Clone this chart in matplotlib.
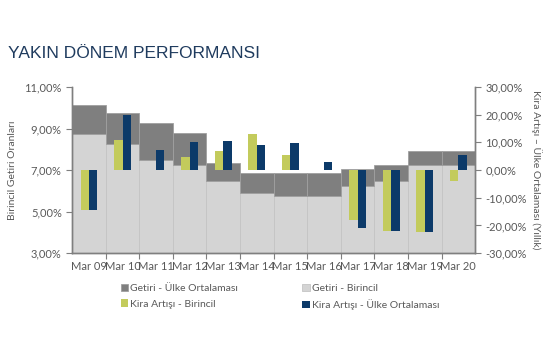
import numpy as np
import matplotlib
matplotlib.use('Agg')
import matplotlib.pyplot as plt
from matplotlib.ticker import FuncFormatter, FixedLocator

# data
years = ['Mar 09', 'Mar 10', 'Mar 11', 'Mar 12', 'Mar 13', 'Mar 14',
         'Mar 15', 'Mar 16', 'Mar 17', 'Mar 18', 'Mar 19', 'Mar 20']
yield_prime = [8.73, 8.24, 7.48, 7.22, 6.47, 5.88, 5.76, 5.76, 6.23, 6.49, 7.24, 7.24]
yield_avg = [10.13, 9.76, 9.25, 8.77, 7.32, 6.87, 6.84, 6.84, 7.03, 7.24, 7.92, 7.92]
rent_prime = [-14.5, 10.8, 0.0, 4.6, 6.9, 12.9, 5.3, 0.0, -18.1, -21.9, -22.3, -3.9]
rent_avg = [-14.5, 19.9, 7.2, 10.2, 10.6, 8.9, 9.6, 3.0, -21.1, -21.9, -22.5, 5.4]

c_dark = '#7f7f7f'
c_light = '#d4d4d4'
c_yel = '#c3cb5c'
c_navy = '#0c3a69'
c_txt = '#595959'

plt.rcParams['font.family'] = ['Lato', 'DejaVu Sans']

fig = plt.figure(figsize=(5.55, 3.55), dpi=100)
ax = fig.add_axes([0.13, 0.287, 0.726, 0.468])
ax2 = ax.twinx()

x = np.arange(len(years))
yp = np.array(yield_prime)
ya = np.array(yield_avg)

b1 = ax.bar(x, yp - 3, bottom=3, width=1, color=c_light, edgecolor='#c4c4c4', lw=0.6,
            label='Getiri - Birincil')
b2 = ax.bar(x, ya - yp, bottom=yp, width=1, color=c_dark, edgecolor='#a0a0a0', lw=0.6,
            label='Getiri - Ülke Ortalaması')
b3 = ax2.bar(x - 0.125, rent_prime, width=0.25, color=c_yel, label='Kira Artışı - Birincil')
b4 = ax2.bar(x + 0.125, rent_avg, width=0.25, color=c_navy, label='Kira Artışı - Ülke Ortalaması')

ax.set_xlim(-0.5, len(years) - 0.5)
ax.set_ylim(3, 11)
ax2.set_ylim(-30, 30)
ax.set_yticks(np.arange(3, 11.1, 2))
ax2.set_yticks(np.arange(-30, 30.1, 10))
pct = FuncFormatter(lambda v, p: f'{v:.2f}%'.replace('.', ','))
ax.yaxis.set_major_formatter(pct)
ax2.yaxis.set_major_formatter(pct)

ax.xaxis.set_major_locator(FixedLocator(x[:-1] + 0.5))
ax.set_xticks(x, minor=True)
ax.set_xticklabels([], minor=False)
ax.set_xticklabels(years, minor=True)
ax.tick_params(axis='x', which='minor', length=0, pad=6, labelsize=8, labelcolor=c_txt)
ax.tick_params(axis='x', which='major', length=4, color=c_dark, direction='out')
ax.tick_params(axis='y', length=4, color=c_dark, labelsize=8, labelcolor=c_txt)
ax2.tick_params(axis='y', length=4, color=c_dark, labelsize=8, labelcolor=c_txt)

for a in (ax, ax2):
    a.spines['top'].set_visible(False)
    for s in ('left', 'right', 'bottom'):
        a.spines[s].set_color(c_dark)
        a.spines[s].set_linewidth(1.0)

ax.set_ylabel('Birincil Getiri Oranları', fontsize=7.5, color=c_txt, labelpad=5)
ax2.set_ylabel('Kira Artışı – Ülke Ortalaması (Yıllık)', fontsize=7.5, color=c_txt,
               rotation=-90, labelpad=11)

fig.text(0.014, 0.837, 'YAKIN DÖNEM PERFORMANSI', fontsize=12.5, color='#1f3b5e',
         family=['Liberation Sans', 'DejaVu Sans'])

fig.legend([b2, b3, b1, b4],
           ['Getiri - Ülke Ortalaması', 'Kira Artışı - Birincil',
            'Getiri - Birincil', 'Kira Artışı - Ülke Ortalaması'],
           ncol=2, loc='upper left', bbox_to_anchor=(0.208, 0.215), frameon=False,
           fontsize=7.5, labelcolor=c_txt, handlelength=0.7, handleheight=0.7,
           handletextpad=0.2, columnspacing=6.2, labelspacing=0.6, borderpad=0)

fig.savefig('out.png', dpi=100)
